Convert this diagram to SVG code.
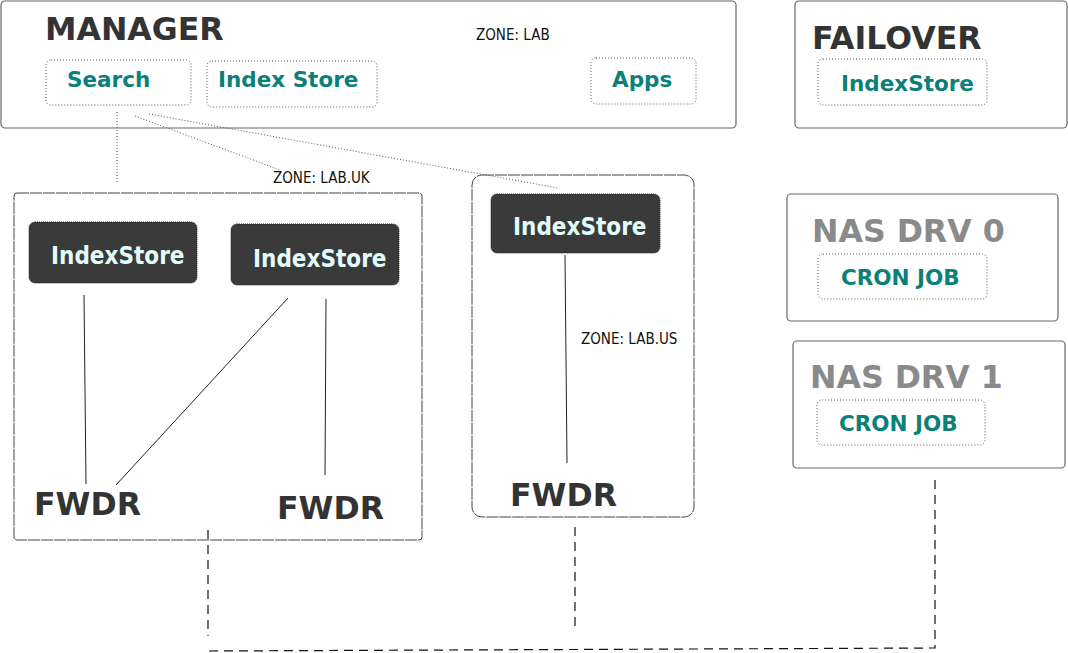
<svg xmlns="http://www.w3.org/2000/svg" width="1068" height="653" viewBox="0 0 1068 653">
<style>
.box{fill:#fff;stroke:#666;stroke-width:1.2}
.zone{fill:none;stroke:#444;stroke-width:1;stroke-dasharray:12 1}
.sub{fill:none;stroke:#555;stroke-width:1;stroke-dasharray:1 2}
.dark{fill:#3a3a3a;stroke:#222;stroke-width:1;stroke-dasharray:1 1}
.title{font-family:"DejaVu Sans",sans-serif;font-weight:bold;font-size:31.6px;fill:#333}
.gtitle{font-family:"DejaVu Sans",sans-serif;font-weight:bold;font-size:31.6px;fill:#8a8a8a}
.teal{font-family:"DejaVu Sans",sans-serif;font-weight:bold;font-size:21.5px;fill:#0b8079}
.light{font-family:"DejaVu Sans Condensed","DejaVu Sans",sans-serif;font-stretch:condensed;font-weight:bold;font-size:24px;fill:#e2fbfb}
.zl{font-family:"DejaVu Sans Condensed","DejaVu Sans",sans-serif;font-stretch:condensed;font-size:15px;fill:#111}
.solid{stroke:#222;stroke-width:1;fill:none}
.dot{stroke:#555;stroke-width:1;stroke-dasharray:1 2;fill:none}
.dash{stroke:#111;stroke-width:1.2;stroke-dasharray:9 6;fill:none}
</style>
<g id="manager">
<rect class="box" x="1" y="1" width="735" height="127" rx="4"/>
<text class="title" x="45" y="40">MANAGER</text>
<text class="zl" x="476" y="40">ZONE: LAB</text>
</g>
<g id="search">
<rect class="sub" x="46" y="60" width="145" height="45" rx="5"/>
<text class="teal" x="67" y="87">Search</text>
</g>
<g id="indexstore-manager">
<rect class="sub" x="207" y="61" width="170" height="46" rx="5"/>
<text class="teal" x="218" y="87">Index Store</text>
</g>
<g id="apps">
<rect class="sub" x="591" y="58" width="105" height="46" rx="5"/>
<text class="teal" x="612" y="87">Apps</text>
</g>
<g id="failover">
<rect class="box" x="795" y="1" width="272" height="127" rx="4"/>
<text class="title" x="812" y="49">FAILOVER</text>
<rect class="sub" x="818" y="59" width="169" height="46" rx="5"/>
<text class="teal" x="841" y="91">IndexStore</text>
</g>
<g id="zone-lab-uk">
<rect class="zone" x="14" y="193" width="408" height="347" rx="3"/>
<text class="zl" x="273" y="183">ZONE: LAB.UK</text>
</g>
<g id="indexstore-uk-1">
<rect class="dark" x="29" y="222" width="168" height="61" rx="6"/>
<text class="light" x="51" y="264">IndexStore</text>
</g>
<g id="indexstore-uk-2">
<rect class="dark" x="231" y="224" width="168" height="61" rx="6"/>
<text class="light" x="253" y="267">IndexStore</text>
</g>
<g id="fwdr-uk-1"><text class="title" x="34" y="515">FWDR</text></g>
<g id="fwdr-uk-2"><text class="title" x="277" y="519">FWDR</text></g>
<g id="zone-lab-us">
<rect class="zone" x="472" y="175" width="222" height="342" rx="10"/>
<text class="zl" x="581" y="344">ZONE: LAB.US</text>
</g>
<g id="indexstore-us">
<rect class="dark" x="491" y="194" width="169" height="59" rx="6"/>
<text class="light" x="513" y="235">IndexStore</text>
</g>
<g id="fwdr-us"><text class="title" x="510" y="506">FWDR</text></g>
<g id="nas-drv-0">
<rect class="box" x="787" y="194" width="271" height="127" rx="4"/>
<text class="gtitle" x="812" y="242">NAS DRV 0</text>
<rect class="sub" x="818" y="254" width="169" height="45" rx="5"/>
<text class="teal" x="841" y="285">CRON JOB</text>
</g>
<g id="nas-drv-1">
<rect class="box" x="793" y="341" width="272" height="127" rx="4"/>
<text class="gtitle" x="810" y="388">NAS DRV 1</text>
<rect class="sub" x="817" y="400" width="168" height="45" rx="5"/>
<text class="teal" x="839" y="431">CRON JOB</text>
</g>
<g id="connectors">
<line class="dot" x1="117" y1="112" x2="117" y2="182"/>
<line class="dot" x1="135" y1="116" x2="280" y2="170"/>
<line class="dot" x1="149" y1="114" x2="558" y2="188"/>
<line class="solid" x1="84" y1="295" x2="86" y2="484"/>
<line class="solid" x1="288" y1="298" x2="116" y2="485"/>
<line class="solid" x1="326" y1="299" x2="325" y2="475"/>
<line class="solid" x1="565" y1="255" x2="567" y2="463"/>
<line class="dash" x1="208" y1="530" x2="208" y2="636"/>
<line class="dash" x1="575" y1="527" x2="575" y2="632"/>
<polyline class="dash" points="209,651 935,648 935,477"/>
</g>
</svg>
